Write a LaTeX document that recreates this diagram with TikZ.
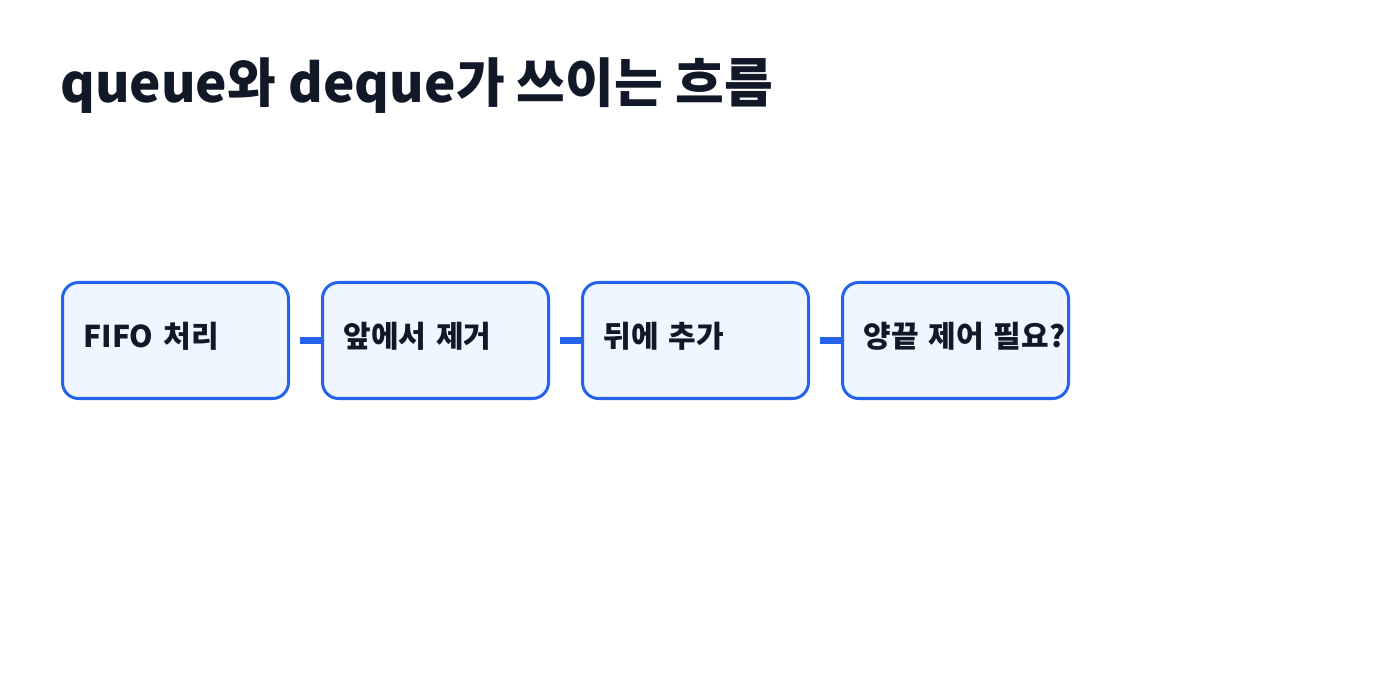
\documentclass[tikz,border=0pt]{standalone}
\usepackage{fontspec}
\setmainfont{Noto Sans CJK KR}[BoldFont={Noto Sans CJK KR Black}]
\usetikzlibrary{positioning}

\definecolor{flowblue}{HTML}{2563EB}
\definecolor{flowfill}{HTML}{EFF6FF}
\definecolor{flowink}{HTML}{111827}

\tikzset{
  stepbox/.style={draw=flowblue, fill=flowfill, line width=3pt, rounded corners=16pt,
    minimum width=226pt, text width=184pt, align=left, inner xsep=21pt, inner ysep=0pt,
    text height=65pt, text depth=51pt, text=flowink,
    font=\fontsize{30pt}{34pt}\selectfont\bfseries},
  link/.style={draw=flowblue, line width=7pt}
}

\begin{document}
\begin{tikzpicture}[x=1pt, y=-1pt]
\useasboundingbox (0,0) rectangle (1400,700);

\node[anchor=base west, text=flowink, inner sep=0pt, font=\fontsize{53pt}{60pt}\selectfont\bfseries]
  (title) at (60,103) {queue와 deque가 쓰이는 흐름};

\node[stepbox, anchor=north west] (fifo) at (61,281) {FIFO 처리};
\node[stepbox, right=31pt of fifo] (front) {앞에서 제거};
\node[stepbox, right=31pt of front] (back) {뒤에 추가};
\node[stepbox, right=31pt of back] (both) {양끝~제어~필요?};

\draw[link] ([xshift=10pt]fifo.east) -- (front.west);
\draw[link] ([xshift=10pt]front.east) -- (back.west);
\draw[link] ([xshift=10pt]back.east) -- (both.west);
\end{tikzpicture}
\end{document}
